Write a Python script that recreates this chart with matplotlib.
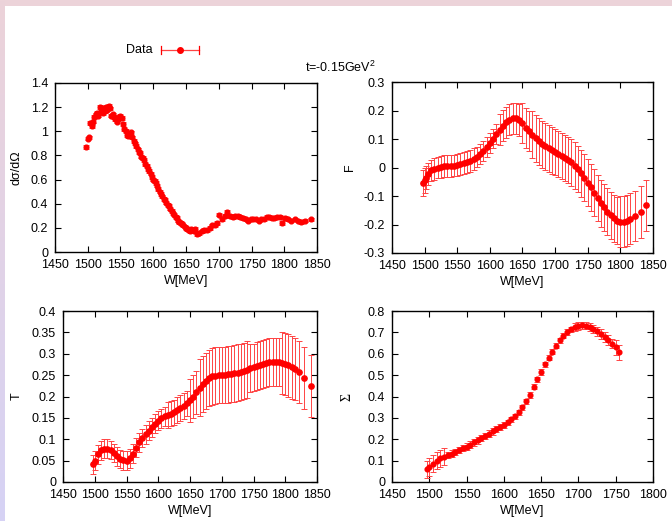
import numpy as np
import matplotlib
matplotlib.use('Agg')
import matplotlib.pyplot as plt
from matplotlib.lines import Line2D
from matplotlib.ticker import FuncFormatter, MultipleLocator

plt.rcParams['font.family'] = ['Liberation Sans', 'DejaVu Sans']
plt.rcParams['font.size'] = 9
plt.rcParams['axes.unicode_minus'] = False
plt.rcParams['mathtext.fontset'] = 'custom'
plt.rcParams['mathtext.rm'] = 'Liberation Sans'
plt.rcParams['mathtext.it'] = 'Liberation Sans:italic'

# ---------------- data ----------------
# differential cross section
W_dsig = [1497, 1500, 1502, 1504, 1506, 1508, 1510, 1512, 1514, 1516,
          1518, 1520, 1522, 1524, 1526, 1528, 1530, 1532, 1534, 1536,
          1538, 1540, 1542, 1544, 1546, 1548, 1550, 1552, 1554, 1556,
          1558, 1560, 1562, 1564, 1566, 1568, 1570, 1572, 1574, 1576,
          1578, 1580, 1582, 1584, 1586, 1588, 1590, 1592, 1594, 1596,
          1598, 1600, 1602, 1604, 1606, 1608, 1610, 1612, 1614, 1616,
          1618, 1620, 1622, 1624, 1626, 1628, 1630, 1632, 1634, 1636,
          1638, 1640, 1642, 1644, 1646, 1648, 1650, 1652, 1654, 1656,
          1658, 1660, 1662, 1664, 1667, 1670, 1674, 1678, 1682, 1686,
          1690, 1694, 1698, 1701, 1705, 1709, 1713, 1717, 1721, 1725,
          1729, 1733, 1737, 1741, 1745, 1749, 1753, 1757, 1761, 1765,
          1769, 1773, 1777, 1781, 1785, 1789, 1793, 1797, 1801, 1806,
          1811, 1816, 1821, 1826, 1831, 1841]
dsig = [0.87, 0.94, 0.95, 1.07, 1.04, 1.08, 1.12, 1.14, 1.15, 1.13,
        1.20, 1.17, 1.19, 1.15, 1.17, 1.20, 1.18, 1.21, 1.19, 1.13,
        1.14, 1.12, 1.10, 1.08, 1.10, 1.12, 1.13, 1.11, 1.06, 1.02,
        1.00, 0.97, 0.96, 0.97, 0.99, 0.95, 0.92, 0.90, 0.88, 0.85,
        0.83, 0.82, 0.79, 0.78, 0.76, 0.73, 0.71, 0.69, 0.67, 0.65,
        0.62, 0.60, 0.59, 0.57, 0.55, 0.52, 0.50, 0.48, 0.46, 0.44,
        0.43, 0.41, 0.39, 0.38, 0.36, 0.34, 0.32, 0.31, 0.29, 0.28,
        0.26, 0.25, 0.24, 0.23, 0.22, 0.21, 0.20, 0.19, 0.18, 0.17,
        0.19, 0.18, 0.17, 0.19, 0.15, 0.16, 0.17, 0.18, 0.18, 0.20,
        0.22, 0.22, 0.24, 0.31, 0.27, 0.30, 0.33, 0.30, 0.29, 0.30,
        0.30, 0.29, 0.28, 0.27, 0.26, 0.27, 0.27, 0.27, 0.26, 0.27,
        0.27, 0.29, 0.29, 0.28, 0.28, 0.29, 0.29, 0.24, 0.28, 0.27,
        0.26, 0.27, 0.26, 0.25, 0.26, 0.27]
dsig_err = 0.015

# F observable
W_F = [1498, 1500, 1502, 1505, 1510, 1515, 1520, 1525, 1530, 1535,
       1540, 1545, 1550, 1555, 1560, 1565, 1570, 1575, 1580, 1585,
       1590, 1595, 1600, 1605, 1610, 1615, 1620, 1625, 1630, 1635,
       1640, 1645, 1650, 1655, 1660, 1665, 1670, 1675, 1680, 1685,
       1690, 1695, 1700, 1705, 1710, 1715, 1720, 1725, 1730, 1735,
       1740, 1745, 1750, 1755, 1760, 1765, 1770, 1775, 1780, 1785,
       1790, 1795, 1800, 1805, 1810, 1815, 1822, 1831, 1840]
F = [-0.055, -0.045, -0.035, -0.022, -0.010, -0.004, 0.000, 0.003, 0.005, 0.006,
     0.006, 0.007, 0.009, 0.012, 0.015, 0.019, 0.024, 0.030, 0.038, 0.047,
     0.058, 0.071, 0.086, 0.102, 0.118, 0.133, 0.147, 0.159, 0.168, 0.173,
     0.173, 0.167, 0.156, 0.140, 0.128, 0.115, 0.103, 0.092, 0.082, 0.074,
     0.067, 0.061, 0.055, 0.048, 0.041, 0.034, 0.027, 0.018, 0.007, -0.005,
     -0.020, -0.036, -0.053, -0.070, -0.088, -0.107, -0.125, -0.140, -0.155, -0.168,
     -0.178, -0.186, -0.190, -0.190, -0.186, -0.180, -0.170, -0.155, -0.133]
F_err = ([0.045, 0.045, 0.042] + [0.038] * 15 + [0.035] * 7 + [0.055] * 7
         + [0.07] * 3 + [0.082] * 27 + [0.09] * 4 + [0.088, 0.091, 0.091])

# T observable
W_T = [1497, 1500, 1505, 1510, 1515, 1520, 1525, 1530, 1535, 1540,
       1545, 1550, 1555, 1560, 1565, 1570, 1575, 1580, 1585, 1590,
       1595, 1600, 1605, 1610, 1615, 1620, 1625, 1630, 1635, 1640,
       1645, 1650, 1655, 1660, 1665, 1670, 1675, 1680, 1685, 1690,
       1695, 1700, 1705, 1710, 1715, 1720, 1725, 1730, 1735, 1740,
       1745, 1750, 1755, 1760, 1765, 1770, 1775, 1780, 1785, 1790,
       1795, 1800, 1805, 1810, 1815, 1822, 1830, 1840]
T = [0.041, 0.050, 0.065, 0.074, 0.078, 0.078, 0.075, 0.068, 0.060, 0.054,
     0.051, 0.050, 0.055, 0.066, 0.080, 0.093, 0.103, 0.112, 0.120, 0.128,
     0.136, 0.143, 0.149, 0.154, 0.157, 0.160, 0.163, 0.168, 0.173, 0.178,
     0.184, 0.191, 0.200, 0.210, 0.221, 0.230, 0.237, 0.243, 0.247, 0.249,
     0.250, 0.251, 0.251, 0.252, 0.253, 0.254, 0.256, 0.258, 0.260, 0.263,
     0.266, 0.268, 0.271, 0.273, 0.276, 0.278, 0.280, 0.281, 0.281, 0.280,
     0.279, 0.276, 0.273, 0.268, 0.264, 0.257, 0.244, 0.225]
T_err = ([0.022] * 24 + [0.03] * 6 + [0.03] + [0.05] * 3 + [0.066] * 16
         + [0.056] * 10 + [0.073] * 5 + [0.073] * 3)

# Sigma (beam asymmetry)
W_S = [1497, 1500, 1505, 1510, 1515, 1520, 1525, 1530, 1535, 1540,
       1545, 1550, 1555, 1560, 1565, 1570, 1575, 1580, 1585, 1590,
       1595, 1600, 1605, 1610, 1615, 1620, 1625, 1630, 1635, 1640,
       1645, 1650, 1655, 1660, 1665, 1670, 1675, 1680, 1685, 1690,
       1695, 1700, 1705, 1710, 1715, 1720, 1725, 1730, 1735, 1740,
       1745, 1750, 1755]
Sig = [0.060, 0.070, 0.085, 0.100, 0.110, 0.118, 0.125, 0.133, 0.141, 0.150,
       0.158, 0.166, 0.175, 0.185, 0.195, 0.205, 0.215, 0.226, 0.237, 0.248,
       0.258, 0.268, 0.280, 0.293, 0.308, 0.327, 0.350, 0.377, 0.407, 0.445,
       0.480, 0.515, 0.550, 0.582, 0.610, 0.638, 0.663, 0.685, 0.702, 0.715,
       0.724, 0.730, 0.733, 0.732, 0.727, 0.717, 0.705, 0.692, 0.678, 0.664,
       0.648, 0.630, 0.608]
Sig_err = ([0.04] * 6 + [0.015] * 16 + [0.012] * 18 + [0.018] * 6
           + [0.022] * 5 + [0.035] * 2)

# ---------------- figure ----------------
fig = plt.figure(figsize=(6.72, 5.21), dpi=100)

# slide background: pink strip on top, pink->lavender strip on the left
bg = np.ones((521, 672, 3))
bg[:6, :, :] = np.array([236, 211, 217]) / 255
top_c = np.array([236, 211, 217]) / 255
bot_c = np.array([214, 210, 245]) / 255
frac = np.linspace(0, 1, 521)[:, None]
bg[:, :5, :] = (top_c * (1 - frac) + bot_c * frac)[:, None, :]
ax_bg = fig.add_axes([0, 0, 1, 1], zorder=-10)
ax_bg.imshow(bg, aspect='auto', extent=[0, 1, 0, 1])
ax_bg.axis('off')

gfmt = FuncFormatter(lambda v, p: f'{v:g}')


def panel(rect, x, y, err, xlim, ylim, ystep, ylabel, ylab_x, ms=3.8, yfont=None):
    ax = fig.add_axes(rect)
    ax.errorbar(x, y, yerr=err, fmt='o', ms=ms, color='red', ecolor='#ff4444',
                elinewidth=0.7, capsize=2, capthick=0.7)
    ax.set_xlim(*xlim)
    ax.set_ylim(*ylim)
    ax.xaxis.set_major_locator(MultipleLocator(50))
    ax.yaxis.set_major_locator(MultipleLocator(ystep))
    ax.xaxis.set_major_formatter(gfmt)
    ax.yaxis.set_major_formatter(gfmt)
    ax.tick_params(direction='in', length=4, width=0.8, top=True, right=True,
                   labelsize=9, pad=5)
    for s in ax.spines.values():
        s.set_linewidth(1.0)
    ax.set_xlabel('W[MeV]', fontsize=9)
    ax.xaxis.set_label_coords(0.5, -0.135)
    if yfont:
        ax.set_ylabel(ylabel, fontsize=10, family=yfont)
    else:
        ax.set_ylabel(ylabel, fontsize=9)
    ax.yaxis.set_label_coords(ylab_x, 0.5)
    return ax


panel([0.0818, 0.5163, 0.390, 0.3244], W_dsig, dsig, dsig_err,
      (1450, 1850), (0, 1.4), 0.2, 'dσ/dΩ', -0.122, ms=3.4)
panel([0.5833, 0.5144, 0.3884, 0.328], W_F, F, F_err,
      (1450, 1850), (-0.3, 0.3), 0.1, 'F', -0.138)
panel([0.09375, 0.0749, 0.378, 0.328], W_T, T, T_err,
      (1450, 1850), (0, 0.4), 0.05, 'T', -0.157)
panel([0.5833, 0.0749, 0.3884, 0.328], W_S, Sig, Sig_err,
      (1450, 1800), (0, 0.8), 0.1, 'Σ', -0.146, ms=3.4, yfont='Liberation Serif')

# title and legend
fig.text(340 / 672, 1 - 67 / 521, 't=-0.15GeV$^2$', ha='center', va='center', fontsize=9)
fig.text(153 / 672, 1 - 50 / 521, 'Data', ha='right', va='center', fontsize=9)
yl = 1 - 50 / 521
fig.add_artist(Line2D([161 / 672, 199 / 672], [yl, yl], color='#ff4444', lw=0.9))
for xc in (161 / 672, 199 / 672):
    fig.add_artist(Line2D([xc, xc], [yl - 4 / 521, yl + 4 / 521], color='red', lw=0.9))
fig.add_artist(Line2D([180 / 672], [yl], marker='o', ms=4, color='red'))

plt.savefig('out.png', dpi=100)
